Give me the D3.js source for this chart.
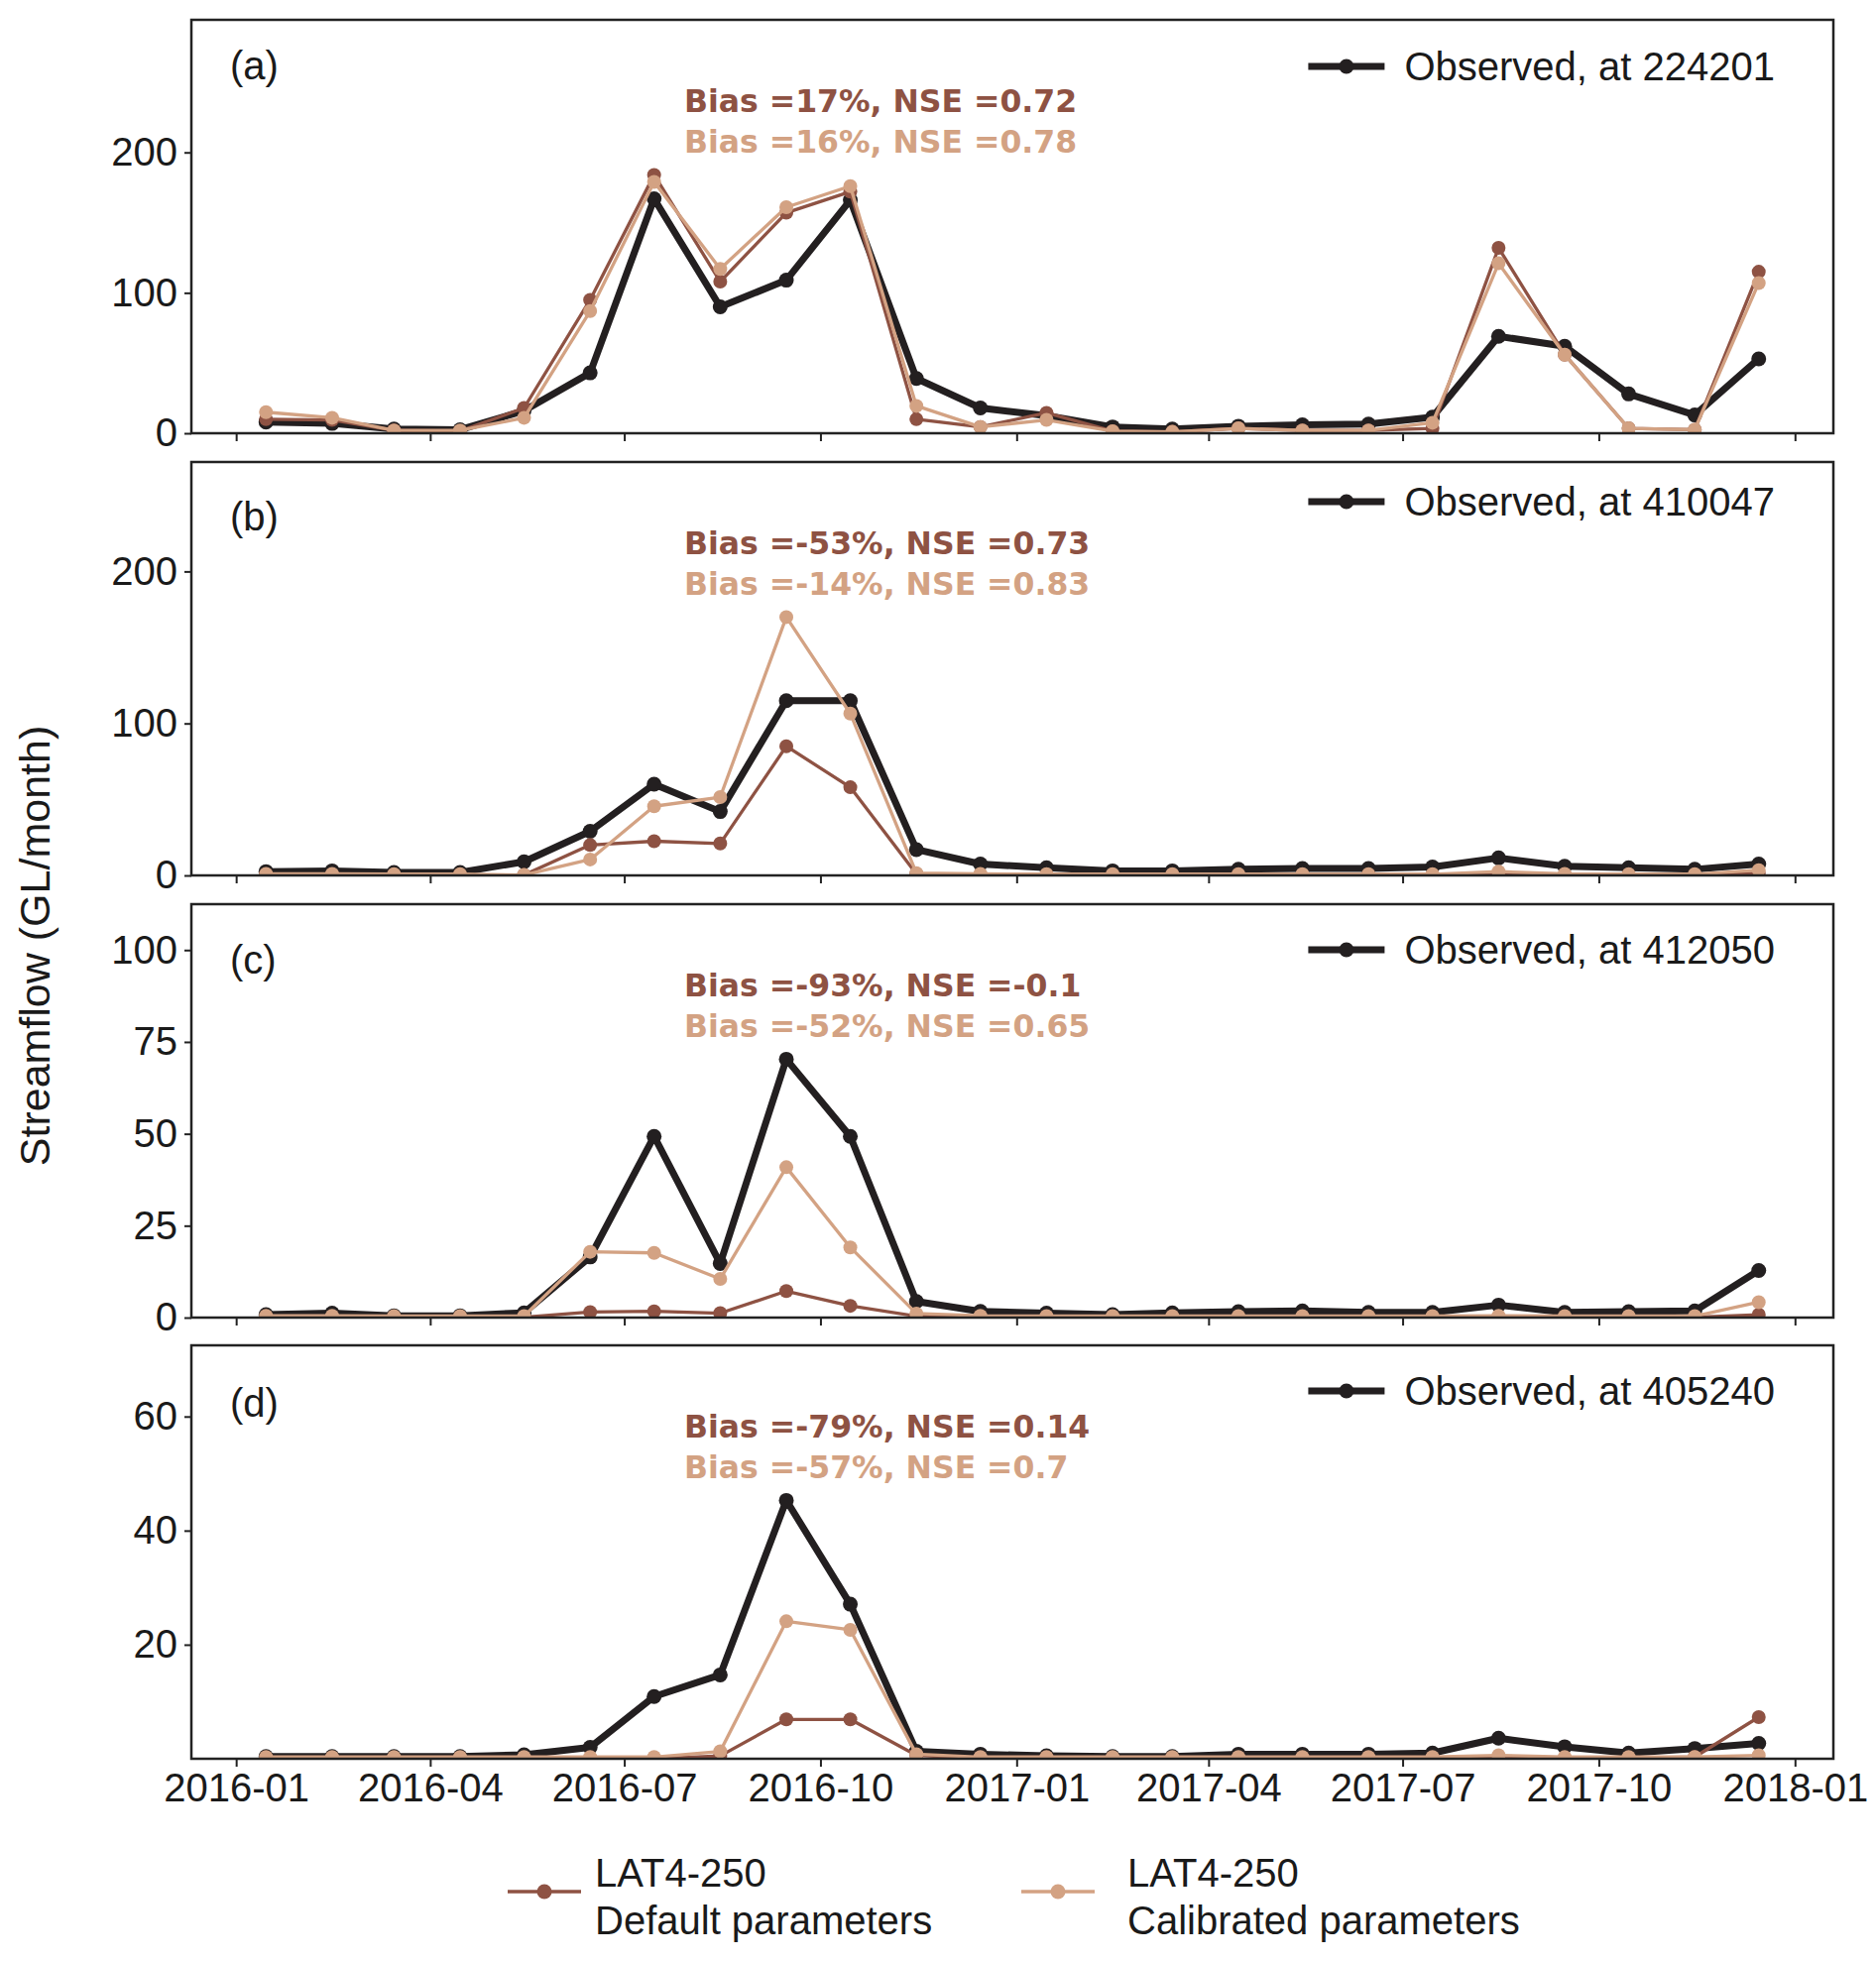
<!DOCTYPE html>
<html>
<head>
<meta charset="utf-8">
<script src="https://cdn.jsdelivr.net/npm/d3@7"></script>
<style>
	html, body { margin: 0; padding: 0; background: #fff; }
	svg { display: block; }
	text { font-family: 'Liberation Sans', Arial, sans-serif; fill: #1a1a1a; }
	.stat { font-family: 'DejaVu Sans', sans-serif; font-weight: bold; }
</style>
</head>
<body>
<svg id="chart" width="1892" height="1978"></svg>
<script>
// monthly values, plotted mid-month
const dates = [
	'2016-01-15', '2016-02-15', '2016-03-15', '2016-04-15', '2016-05-15', '2016-06-15',
	'2016-07-15', '2016-08-15', '2016-09-15', '2016-10-15', '2016-11-15', '2016-12-15',
	'2017-01-15', '2017-02-15', '2017-03-15', '2017-04-15', '2017-05-15', '2017-06-15',
	'2017-07-15', '2017-08-15', '2017-09-15', '2017-10-15', '2017-11-15', '2017-12-15'
];

const panelNames = ['(a)', '(b)', '(c)', '(d)'];
const gauges = ['224201', '410047', '412050', '405240'];

// observed streamflow (GL/month)
const observedA = [8, 7, 3, 2.5, 16, 43, 167, 90, 109, 166, 39, 18, 12.5, 4.5, 3, 5, 6, 6.5, 11.5, 69, 62, 28, 13, 53];
const observedB = [2.5, 3, 2, 2, 9, 29, 60, 42, 115, 115, 17, 7.5, 5, 3, 3, 4, 4.5, 4.5, 5.5, 11.5, 6, 5, 4, 7.5];
const observedC = [0.8, 1.2, 0.5, 0.5, 1.3, 16.5, 49.3, 14.7, 70.3, 49.3, 4.4, 1.7, 1.2, 0.8, 1.3, 1.6, 1.8, 1.4, 1.4, 3.4, 1.4, 1.6, 1.8, 12.8];
const observedD = [0.4, 0.4, 0.4, 0.4, 0.7, 2.0, 10.9, 14.7, 45.3, 27.1, 1.3, 0.8, 0.5, 0.4, 0.4, 0.8, 0.8, 0.8, 1.0, 3.6, 2.1, 1.0, 1.8, 2.7];

// LAT4-250, default parameters
const defaultA = [10, 9.5, 2, 1.5, 18, 95, 184, 108, 157, 172, 10, 4.5, 14.5, 1.5, 1, 3.5, 2, 2, 3.5, 132, 56, 3.5, 2.5, 115];
const defaultB = [0.5, 0.5, 0.3, 0.3, 0.3, 20, 22.5, 21, 85, 58, 1, 0.5, 0.3, 0.3, 0.3, 0.3, 0.3, 0.3, 0.3, 1, 0.5, 0.3, 0.3, 1.5];
const defaultC = [0.1, 0.1, 0.1, 0.1, 0.1, 1.5, 1.7, 1.2, 7.2, 3.2, 0.4, 0.1, 0.1, 0.1, 0.1, 0.1, 0.1, 0.1, 0.1, 0.1, 0.1, 0.1, 0.1, 0.8];
const defaultD = [0, 0, 0, 0, 0, 0, 0, 0.5, 6.9, 6.9, 0.6, 0.1, 0.1, 0.1, 0.1, 0.1, 0.1, 0.1, 0.1, 0.1, 0.1, 0.1, 0.3, 7.3];

// LAT4-250, calibrated parameters
const calibratedA = [15, 11, 2, 2, 11, 87, 179, 117, 161, 176, 19.5, 4.5, 9.5, 1.5, 1, 3.5, 2, 2, 7.5, 121, 56, 3.5, 2.5, 107];
const calibratedB = [1, 1, 0.8, 0.8, 0.3, 10.5, 45.5, 51.5, 170, 106.5, 1.5, 1, 0.8, 0.8, 0.8, 0.8, 0.8, 0.8, 0.8, 2.5, 1, 0.8, 0.8, 3.5];
const calibratedC = [0.5, 0.5, 0.4, 0.4, 0.4, 17.9, 17.6, 10.5, 40.9, 19.1, 1.1, 0.5, 0.4, 0.4, 0.4, 0.4, 0.4, 0.4, 0.4, 0.5, 0.4, 0.4, 0.4, 4.2];
const calibratedD = [0.3, 0.3, 0.3, 0.3, 0.3, 0.3, 0.3, 1.3, 24.1, 22.6, 0.8, 0.3, 0.3, 0.3, 0.3, 0.3, 0.3, 0.3, 0.3, 0.6, 0.3, 0.3, 0.3, 0.6];

const defaultStats = ['Bias =17%, NSE =0.72', 'Bias =-53%, NSE =0.73', 'Bias =-93%, NSE =-0.1', 'Bias =-79%, NSE =0.14'];
const calibratedStats = ['Bias =16%, NSE =0.78', 'Bias =-14%, NSE =0.83', 'Bias =-52%, NSE =0.65', 'Bias =-57%, NSE =0.7'];

const yTicks = [[0, 100, 200], [0, 100, 200], [0, 25, 50, 75, 100], [20, 40, 60]];
const xTickDates = ['2016-01-01', '2016-04-01', '2016-07-01', '2016-10-01', '2017-01-01',
	'2017-04-01', '2017-07-01', '2017-10-01', '2018-01-01'];

const observed = [observedA, observedB, observedC, observedD];
const defaults = [defaultA, defaultB, defaultC, defaultD];
const calibrated = [calibratedA, calibratedB, calibratedC, calibratedD];

// styling
const colors = {obs: '#231f20', def: '#8e5243', cal: '#d3a283', frame: '#222'};
const left = 193;
const right = 1849;
const panelTops = [20, 466, 912, 1357];
const panelHeight = 417;
const labelOffsets = [46, 55, 56, 58];
const legendOffsets = [47, 40, 46, 46];

const parse = d3.timeParse('%Y-%m-%d');
const time = dates.map(parse);

const svg = d3.select('#chart');

// 5% padding on each side, like matplotlib's default margins
const [t0, t1] = d3.extent(time);
const pad = (t1 - t0) * 0.05;
const x = d3.scaleTime()
	.domain([new Date(+t0 - pad), new Date(+t1 + pad)])
	.range([left, right]);

const defs = svg.append('defs');

/**
 * Draw one line series with circle markers.
 */
function series(g, values, y, color, width, r) {
	const pts = values.map((v, i) => [x(time[i]), y(v)]);
	g.append('path')
		.datum(pts)
		.attr('fill', 'none')
		.attr('stroke', color)
		.attr('stroke-width', width)
		.attr('stroke-linejoin', 'round')
		.attr('d', d3.line());
	g.selectAll(null)
		.data(pts)
		.join('circle')
		.attr('cx', d => d[0])
		.attr('cy', d => d[1])
		.attr('r', r)
		.attr('fill', color);
}

panelNames.forEach((name, p) => {
	const top = panelTops[p];
	const bottom = top + panelHeight;
	const maxVal = d3.max([...observed[p], ...defaults[p], ...calibrated[p]]);
	const y = d3.scaleLinear()
		.domain([0, maxVal * 1.6])
		.range([bottom, top]);

	const g = svg.append('g');

	defs.append('clipPath')
		.attr('id', 'clip' + p)
		.append('rect')
		.attr('x', left)
		.attr('y', top)
		.attr('width', right - left)
		.attr('height', panelHeight);

	// y axis
	const yAxis = g.append('g')
		.attr('transform', `translate(${left},0)`)
		.call(d3.axisLeft(y).tickValues(yTicks[p]).tickSize(7).tickPadding(7).tickFormat(d3.format('d')));
	yAxis.select('.domain').remove();
	yAxis.selectAll('line').attr('stroke', colors.frame).attr('stroke-width', 2);
	yAxis.selectAll('text').style('font-size', '40px').attr('fill', '#1a1a1a');

	// x axis
	const xAxis = g.append('g')
		.attr('transform', `translate(0,${bottom})`)
		.call(d3.axisBottom(x)
			.tickValues(xTickDates.map(parse))
			.tickSize(8)
			.tickPadding(7)
			.tickFormat(p === panelNames.length - 1 ? d3.timeFormat('%Y-%m') : () => ''));
	xAxis.select('.domain').remove();
	xAxis.selectAll('line').attr('stroke', colors.frame).attr('stroke-width', 2);
	xAxis.selectAll('text').style('font-size', '40px').attr('fill', '#1a1a1a');

	// data lines
	const plot = g.append('g').attr('clip-path', `url(#clip${p})`);
	series(plot, observed[p], y, colors.obs, 7, 7.5);
	series(plot, defaults[p], y, colors.def, 3.3, 7);
	series(plot, calibrated[p], y, colors.cal, 3.3, 7);

	// frame
	g.append('rect')
		.attr('x', left)
		.attr('y', top)
		.attr('width', right - left)
		.attr('height', panelHeight)
		.attr('fill', 'none')
		.attr('stroke', colors.frame)
		.attr('stroke-width', 2.5);

	// panel label
	g.append('text')
		.attr('x', 232)
		.attr('y', top + labelOffsets[p] + 14)
		.style('font-size', '40px')
		.text(name);

	// stats
	g.append('text')
		.attr('class', 'stat')
		.attr('x', 690)
		.attr('y', top + 93)
		.style('font-size', '31.5px')
		.style('fill', colors.def)
		.text(defaultStats[p]);
	g.append('text')
		.attr('class', 'stat')
		.attr('x', 690)
		.attr('y', top + 134)
		.style('font-size', '31.5px')
		.style('fill', colors.cal)
		.text(calibratedStats[p]);

	// observed legend, upper right
	const ly = top + legendOffsets[p];
	const lt = g.append('text')
		.attr('x', 1790)
		.attr('y', ly + 14)
		.attr('text-anchor', 'end')
		.style('font-size', '40px')
		.text('Observed, at ' + gauges[p]);
	const start = 1790 - lt.node().getComputedTextLength();
	g.append('line')
		.attr('x1', start - 97).attr('x2', start - 20)
		.attr('y1', ly).attr('y2', ly)
		.attr('stroke', colors.obs)
		.attr('stroke-width', 7);
	g.append('circle')
		.attr('cx', start - 58.5)
		.attr('cy', ly)
		.attr('r', 7.5)
		.attr('fill', colors.obs);
});

// y label
svg.append('text')
	.attr('transform', 'translate(50,954) rotate(-90)')
	.attr('text-anchor', 'middle')
	.style('font-size', '43px')
	.text('Streamflow (GL/month)');

// bottom legend
const legendItems = [
	{x: 512, textX: 600, color: colors.def, lines: ['LAT4-250', 'Default parameters']},
	{x: 1030, textX: 1137, color: colors.cal, lines: ['LAT4-250', 'Calibrated parameters']}
];
const legendY = 1908;
const legend = svg.append('g');
legendItems.forEach(item => {
	legend.append('line')
		.attr('x1', item.x).attr('x2', item.x + 74)
		.attr('y1', legendY).attr('y2', legendY)
		.attr('stroke', item.color)
		.attr('stroke-width', 3.3);
	legend.append('circle')
		.attr('cx', item.x + 37)
		.attr('cy', legendY)
		.attr('r', 7.5)
		.attr('fill', item.color);
	const t = legend.append('text')
		.attr('x', item.textX)
		.attr('y', legendY - 5)
		.style('font-size', '40px');
	item.lines.forEach((l, i) => {
		t.append('tspan')
			.attr('x', item.textX)
			.attr('dy', i === 0 ? 0 : 48)
			.text(l);
	});
});
</script>
</body>
</html>
